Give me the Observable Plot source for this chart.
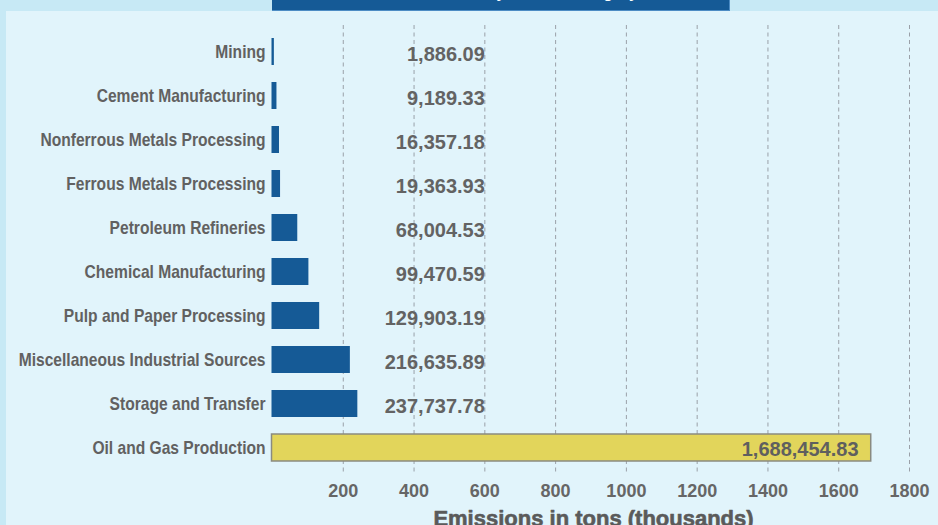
<!DOCTYPE html>
<html>
<head>
<meta charset="utf-8">
<script src="https://cdn.jsdelivr.net/npm/d3@7"></script>
<script src="https://cdn.jsdelivr.net/npm/@observablehq/plot@0.6"></script>
<style>
  html, body { margin: 0; padding: 0; }
  body { width: 938px; height: 525px; overflow: hidden; background: #c7e9f5; }
  #wrap { position: relative; width: 938px; height: 525px; overflow: hidden; }
  #panel { position: absolute; left: 6px; top: 11px; right: 0; bottom: 0; background: #e1f4fb; }
  #titlebox { position: absolute; left: 272px; top: 0; width: 457px; height: 10px; background: #155a96;
              border-bottom: 1px solid #4d8cc4; border-right: 1px solid #4d8cc4; overflow: hidden; }
  #titlebox svg { display: block; overflow: hidden; }
  #chart { position: absolute; left: 0; top: 0; }
  #chart svg { overflow: visible; }
  #chart [aria-label^="y-axis"] text {
    font-family: "Liberation Sans", Arial, sans-serif;
    font-size: 19px; font-weight: bold; fill: #616161;
  }
  #chart [aria-label^="x-axis"] text {
    font-family: "Liberation Sans", Arial, sans-serif;
    font-size: 18px; font-weight: bold; fill: #666666;
  }
</style>
</head>
<body>
<div id="wrap">
  <div id="panel"></div>
  <div id="titlebox">
    <svg width="457" height="10">
      <text x="228.5" y="-2.5" text-anchor="middle" fill="#ffffff"
            font-family="Liberation Sans, Arial, sans-serif" font-size="16" font-weight="bold">VOC Emissions by Source Category</text>
    </svg>
  </div>
  <div id="chart"></div>
</div>
<script>
// ---- data ----
const categories = [
  "Mining",
  "Cement Manufacturing",
  "Nonferrous Metals Processing",
  "Ferrous Metals Processing",
  "Petroleum Refineries",
  "Chemical Manufacturing",
  "Pulp and Paper Processing",
  "Miscellaneous Industrial Sources",
  "Storage and Transfer",
  "Oil and Gas Production"
];
const emissionsTons = [
  1886.09, 9189.33, 16357.18, 19363.93, 68004.53,
  99470.59, 129903.19, 216635.89, 237737.78, 1688454.83
];
const xTicks = [200, 400, 600, 800, 1000, 1200, 1400, 1600, 1800];
const highlighted = "Oil and Gas Production";
const labelColumn = 600; // value labels are right-aligned on this gridline
const axisTitle = "Emissions in tons (thousands)";

const fmt = d3.format(",.2f");
const rows = categories.map((c, i) => ({
  category: c,
  thousands: emissionsTons[i] / 1000,
  label: fmt(emissionsTons[i])
}));
const otherRows = rows.filter(d => d.category !== highlighted);
const highRows = rows.filter(d => d.category === highlighted);

const chart = Plot.plot({
  width: 938,
  height: 525,
  marginLeft: 272,
  marginRight: 29,
  marginTop: 29.3,
  marginBottom: 55.7,
  style: { background: "transparent", overflow: "visible" },
  x: { domain: [0, 1800], ticks: xTicks, tickFormat: d => String(d), tickSize: 0, tickPadding: 14, label: null },
  y: { domain: categories, paddingInner: 0.386, paddingOuter: 0.193, tickSize: 0, tickPadding: 7, label: null },
  marks: [
    Plot.ruleX(xTicks, { x: d => d, stroke: "#9aa0a8", strokeWidth: 1, strokeDasharray: "4,3.5", insetTop: -4.3, insetBottom: -3.7 }),
    Plot.barX(otherRows, { x1: 0, x2: "thousands", y: "category", fill: "#155a96", insetLeft: -0.5, insetRight: -1.2 }),
    Plot.barX(highRows, { x1: 0, x2: "thousands", y: "category", fill: "#e2d55b", stroke: "#8a8a80", strokeWidth: 1.5, insetLeft: -0.5, insetRight: -1.2 }),
    Plot.text(otherRows, { x: () => labelColumn, y: "category", text: "label", textAnchor: "end", dy: 2.5,
      fill: "#636363", fontSize: 20, fontWeight: "bold", fontFamily: "Liberation Sans, Arial, sans-serif" }),
    Plot.text(highRows, { x: "thousands", y: "category", text: "label", textAnchor: "end", dx: -11.5, dy: 2,
      fill: "#5f5f5f", fontSize: 20, fontWeight: "bold", fontFamily: "Liberation Sans, Arial, sans-serif" }),
    Plot.text([axisTitle], { text: d => d, frameAnchor: "bottom", lineAnchor: "bottom", dx: 2.5, dy: 56.5,
      fill: "#5a5a5a", stroke: "#5a5a5a", strokeWidth: 0.6, fontSize: 22, fontWeight: "bold",
      fontFamily: "Liberation Sans, Arial, sans-serif" })
  ]
});
document.getElementById("chart").appendChild(chart);

// condense the category labels (the reference uses a condensed face)
chart.querySelectorAll('[aria-label^="y-axis"] text').forEach(t => {
  const w = t.getComputedTextLength();
  if (w > 0) {
    t.setAttribute("textLength", (w * 0.82).toFixed(1));
    t.setAttribute("lengthAdjust", "spacingAndGlyphs");
  }
});
</script>
</body>
</html>
